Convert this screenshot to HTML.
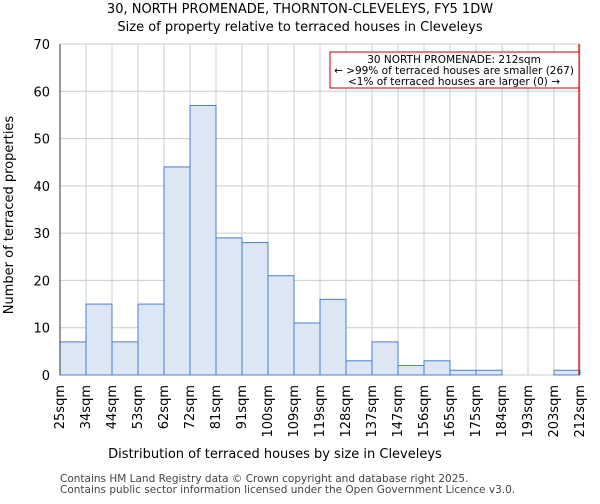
<!DOCTYPE html>
<html><head><meta charset="utf-8"><style>
body{margin:0;background:#fff;font-family:"DejaVu Sans","Liberation Sans",sans-serif;}
svg text{font-family:"DejaVu Sans","Liberation Sans",sans-serif;}
</style></head><body>
<svg id="c" width="600" height="500" xmlns="http://www.w3.org/2000/svg">
<text x="300" y="13" font-size="13" text-anchor="middle">30, NORTH PROMENADE, THORNTON-CLEVELEYS, FY5 1DW</text>
<text x="300" y="31" font-size="13" text-anchor="middle">Size of property relative to terraced houses in Cleveleys</text>
<g id="grid"></g><g id="bars"></g><g id="axes"></g>
<text x="275" y="458" font-size="13" text-anchor="middle">Distribution of terraced houses by size in Cleveleys</text>
<text transform="translate(13,215) rotate(-90)" font-size="13" text-anchor="middle">Number of terraced properties</text>
<text x="60" y="482" font-size="10.5" fill="#444">Contains HM Land Registry data © Crown copyright and database right 2025.</text>
<text x="60" y="493" font-size="10.5" fill="#444">Contains public sector information licensed under the Open Government Licence v3.0.</text>
</svg>
<script>
const categories=["25sqm","34sqm","44sqm","53sqm","62sqm","72sqm","81sqm","91sqm","100sqm","109sqm","119sqm","128sqm","137sqm","147sqm","156sqm","165sqm","175sqm","184sqm","193sqm","203sqm","212sqm"];
const counts=[7,15,7,15,44,57,29,28,21,11,16,3,7,2,3,1,1,0,0,1];
const yTicks=[0,10,20,30,40,50,60,70];
const markerIndex=20;
const L=60,R=580,T=44,B=375,yMax=70;
const bw=(R-L)/counts.length;
const xs=i=>L+i*bw, ys=v=>B-(v/yMax)*(B-T);
const NS="http://www.w3.org/2000/svg";
function mk(tag,attrs,parent,txt){const e=document.createElementNS(NS,tag);for(const k in attrs)e.setAttribute(k,attrs[k]);if(txt!==undefined)e.textContent=txt;document.getElementById(parent).appendChild(e);return e;}
for(const t of yTicks){
 const g=mk('line',{x1:L,x2:R,y1:ys(t),y2:ys(t),stroke:'#ccc'},'grid');
 
 
 const tx=mk('text',{x:L-10,y:ys(t)+5,'font-size':13,'text-anchor':'end'},'axes',String(t));
 
 
}
for(let i=0;i<categories.length;i++){
 const g=mk('line',{x1:xs(i),x2:xs(i),y1:T,y2:B,stroke:'#ccc'},'grid');
 
 
 const x=xs(i)+4;
 const tx=mk('text',{transform:`translate(${x},${B+10}) rotate(-90)`,'font-size':13,'text-anchor':'end'},'axes',categories[i]);
 
 
}
counts.forEach((v,i)=>{
 const r=mk('rect',{x:xs(i),y:ys(v),width:bw,height:B-ys(v),fill:'#dce6f4',stroke:'#4a7fd0','stroke-width':1},'bars');
 
 
});
const a1=mk('line',{x1:L,x2:L,y1:T,y2:B,stroke:'#333'},'axes');


const mx=xs(markerIndex)-1;
const ml=mk('line',{x1:mx,x2:mx,y1:T,y2:B,stroke:'#c00','stroke-width':1.2},'axes');


const box=mk('rect',{x:330,y:52,width:249,height:36,fill:'#fff',stroke:'#c00'},'axes');


const lines=["30 NORTH PROMENADE: 212sqm","← >99% of terraced houses are smaller (267)","<1% of terraced houses are larger (0) →"];
lines.forEach((s,i)=>{const t=mk('text',{x:454,y:63+i*11,'font-size':10.5,'text-anchor':'middle'},'axes',s);
 
 });
</script>
</body></html>
